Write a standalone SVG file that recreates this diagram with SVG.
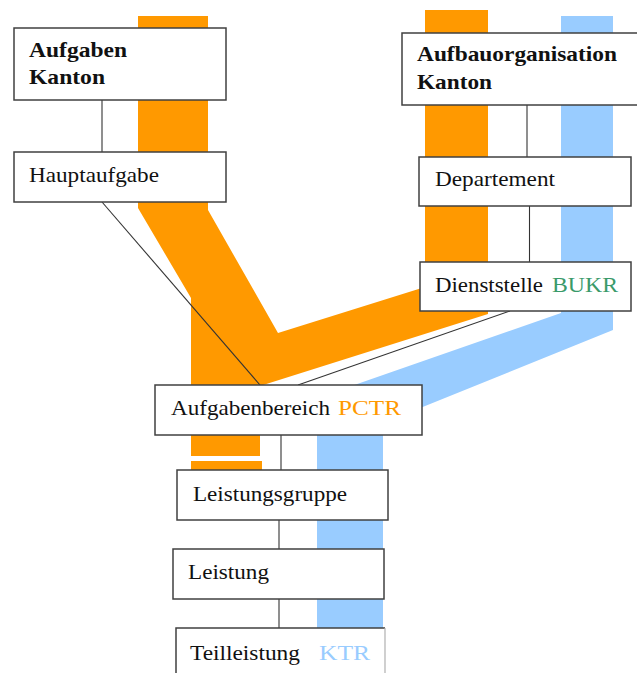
<svg xmlns="http://www.w3.org/2000/svg" width="637" height="673" viewBox="0 0 637 673" font-family="Liberation Serif, serif">
<style>
.box{fill:#fff;stroke:#404040;stroke-width:1.5}
.con{stroke:#333;stroke-width:1.1;fill:none}
.orange{fill:#FF9900}
.blue{fill:#99CCFF}
</style>
<g id="bands">
<polygon class="orange" points="138,16 208,16 208,210 278,333 425,287 425,10 488,10 488,314 260,386 260,456 191,456 191,298 138,208"/>
<rect class="orange" x="191" y="461" width="71" height="10"/>
<polygon class="blue" points="561,16 613,16 613,330 383,423 383,628 317,628 317,398 561,313"/>
</g>
<g id="connectors">
<line class="con" x1="102" y1="100" x2="102" y2="152"/>
<line class="con" x1="102" y1="202" x2="260" y2="385"/>
<line class="con" x1="527" y1="105" x2="527" y2="157"/>
<line class="con" x1="529.5" y1="206" x2="529.5" y2="262"/>
<line class="con" x1="510" y1="311" x2="298" y2="385"/>
<line class="con" x1="281" y1="435" x2="281" y2="470"/>
<line class="con" x1="279" y1="520" x2="279" y2="549"/>
<line class="con" x1="279" y1="599" x2="279" y2="628"/>
</g>
<g font-family="Liberation Serif, serif" font-size="21" fill="#111">
<g id="aufgaben-kanton">
<rect class="box" x="14" y="28" width="212" height="72"/>
<text x="29" y="57" font-weight="bold" textLength="98" lengthAdjust="spacingAndGlyphs">Aufgaben</text>
<text x="29" y="84" font-weight="bold" textLength="76" lengthAdjust="spacingAndGlyphs">Kanton</text>
</g>
<g id="hauptaufgabe">
<rect class="box" x="14" y="152" width="212" height="50"/>
<text x="29" y="182" textLength="130" lengthAdjust="spacingAndGlyphs">Hauptaufgabe</text>
</g>
<g id="aufbauorganisation-kanton">
<rect class="box" x="402" y="33" width="240" height="72"/>
<text x="417" y="61" font-weight="bold" textLength="200" lengthAdjust="spacingAndGlyphs">Aufbauorganisation</text>
<text x="417" y="89" font-weight="bold" textLength="75" lengthAdjust="spacingAndGlyphs">Kanton</text>
</g>
<g id="departement">
<rect class="box" x="419" y="157" width="212" height="49"/>
<text x="435" y="186" textLength="120" lengthAdjust="spacingAndGlyphs">Departement</text>
</g>
<g id="dienststelle">
<rect class="box" x="420" y="262" width="211" height="49"/>
<text x="435" y="292" textLength="108" lengthAdjust="spacingAndGlyphs">Dienststelle</text>
<text x="552" y="292" textLength="66" lengthAdjust="spacingAndGlyphs" fill="#3A9A6A">BUKR</text>
</g>
<g id="aufgabenbereich">
<rect class="box" x="155" y="385" width="267" height="50"/>
<text x="171" y="415" textLength="159" lengthAdjust="spacingAndGlyphs">Aufgabenbereich</text>
<text x="338" y="415" textLength="63" lengthAdjust="spacingAndGlyphs" fill="#FF9900">PCTR</text>
</g>
<g id="leistungsgruppe">
<rect class="box" x="177" y="470" width="211" height="50"/>
<text x="193" y="501" textLength="154" lengthAdjust="spacingAndGlyphs">Leistungsgruppe</text>
</g>
<g id="leistung">
<rect class="box" x="173" y="549" width="211" height="50"/>
<text x="188" y="579" textLength="81" lengthAdjust="spacingAndGlyphs">Leistung</text>
</g>
<g id="teilleistung">
<rect x="176" y="628" width="209" height="60" fill="#fff"/>
<path d="M176,680 V628 H385" fill="none" stroke="#404040" stroke-width="1.5"/>
<line x1="385" y1="628" x2="385" y2="673" stroke="#b0b0b0" stroke-width="1.2"/>
<text x="190" y="660" textLength="110" lengthAdjust="spacingAndGlyphs">Teilleistung</text>
<text x="319" y="660" textLength="51" lengthAdjust="spacingAndGlyphs" fill="#99CCFF">KTR</text>
</g>
</g>
</svg>
